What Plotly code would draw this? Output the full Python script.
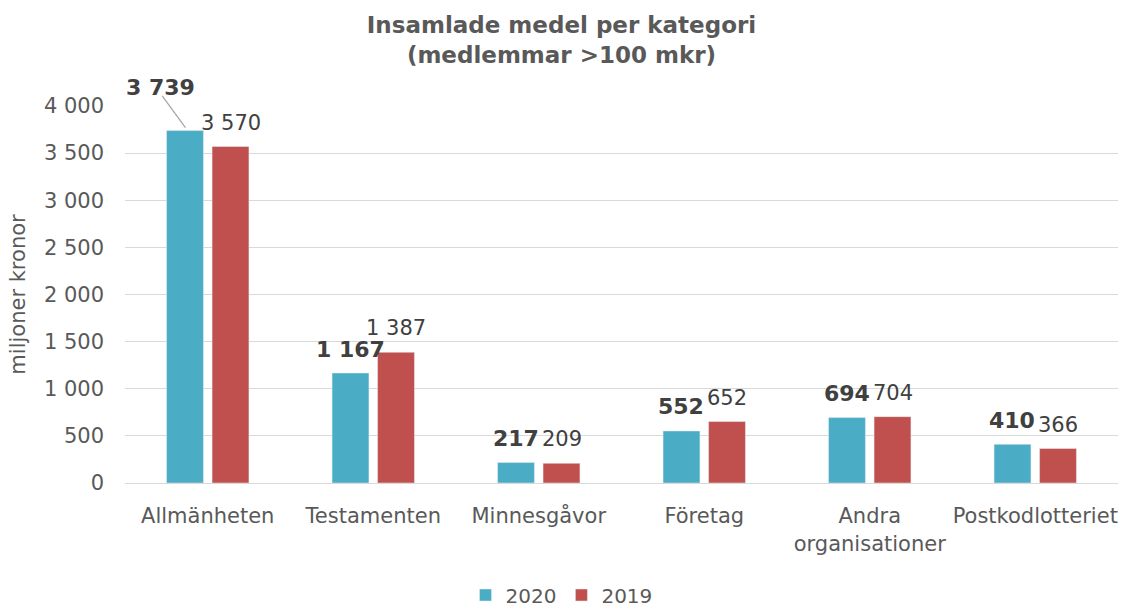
import plotly.graph_objects as go

categories = ["Allmänheten", "Testamenten", "Minnesgåvor", "Företag",
              "Andra<br>organisationer", "Postkodlotteriet"]
values_2020 = [3739, 1167, 217, 552, 694, 410]
values_2019 = [3570, 1387, 209, 652, 704, 366]
y_ticks = [0, 500, 1000, 1500, 2000, 2500, 3000, 3500, 4000]

TEAL = "#4BACC6"
RED = "#C0504D"
FONT = "DejaVu Sans"
GREY = "#595959"
DARK = "#404040"
Y_MAX = 4000
N = len(categories)
OFFSET = 0.14  # half the distance between the two bars of a group, in category units


def fmt(v):
    return f"{v:,}".replace(",", " ")


fig = go.Figure()
fig.add_trace(go.Bar(name="2020", x=categories, y=values_2020, marker_color=TEAL))
fig.add_trace(go.Bar(name="2019", x=categories, y=values_2019, marker_color=RED))

# Value labels above each bar
for i, (a, b) in enumerate(zip(values_2020, values_2019)):
    if i > 0:
        fig.add_annotation(
            x=i - OFFSET, y=a, xref="x", yref="y", xanchor="center",
            yanchor="middle", yshift=24,
            text=f"<b>{fmt(a)}</b>", showarrow=False,
            font=dict(family=FONT, size=22, color=DARK),
        )
    fig.add_annotation(
        x=i + OFFSET, y=b, xref="x", yref="y", xanchor="center",
        yanchor="middle", yshift=24,
        text=fmt(b), showarrow=False,
        font=dict(family=FONT, size=21, color=DARK),
    )

# The tallest 2020 label sits up and to the left, joined to its bar by a leader line
bar0_x = (0.5 - OFFSET) / N
fig.add_annotation(
    x=bar0_x - 0.145 / N, y=values_2020[0] / Y_MAX + 0.113, xref="paper", yref="paper",
    xanchor="center", yanchor="middle",
    text=f"<b>{fmt(values_2020[0])}</b>", showarrow=False,
    font=dict(family=FONT, size=22, color=DARK),
)
fig.add_shape(
    type="line", xref="paper", yref="paper",
    x0=bar0_x - 0.135 / N, y0=values_2020[0] / Y_MAX + 0.092,
    x1=bar0_x + 0.005 / N, y1=values_2020[0] / Y_MAX + 0.008,
    line=dict(color="#A6A6A6", width=1.3),
)

fig.update_layout(
    width=1123, height=607,
    margin=dict(l=125, r=5, t=106, b=124),
    paper_bgcolor="white", plot_bgcolor="white",
    separators=", ",
    barmode="group", bargap=0.45, bargroupgap=0.19,
    font=dict(family=FONT, size=21, color=GREY),
    title=dict(
        text="<b>Insamlade medel per kategori<br>(medlemmar >100 mkr)</b>",
        x=0.5, xref="container", xanchor="center",
        y=1 - 33 / 607, yref="container", yanchor="middle",
        font=dict(family=FONT, size=23, color=GREY),
    ),
    legend=dict(
        orientation="h", x=0.5, xref="container", xanchor="center",
        y=1 - 595 / 607, yref="container", yanchor="middle",
        font=dict(family=FONT, size=20, color=GREY),
        itemwidth=30, traceorder="normal",
    ),
    xaxis=dict(
        showline=True, linecolor="#D9D9D9", linewidth=1,
        tickfont=dict(family=FONT, size=21, color=GREY),
        ticks="", ticklabelstandoff=14,
    ),
    yaxis=dict(
        range=[0, Y_MAX], tickvals=y_ticks, tickformat=",",
        showgrid=True, gridcolor="#D9D9D9", gridwidth=1,
        zeroline=False, showline=False, ticks="",
        tickfont=dict(family=FONT, size=21, color=GREY),
        ticklabelstandoff=20,
        title=dict(text="miljoner kronor", standoff=12,
                   font=dict(family=FONT, size=21, color=GREY)),
    ),
)

fig.write_html("out.html")
